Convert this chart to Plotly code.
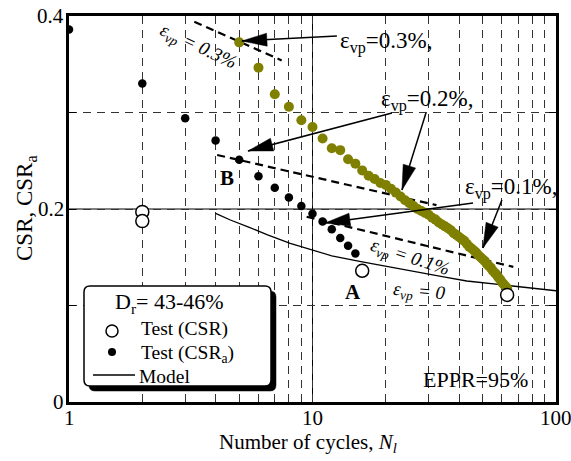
import numpy as np
import plotly.graph_objects as go

# ---------------- data ----------------
csr_a_cycles = [1, 2, 3, 4, 5, 6, 7, 8, 9, 10, 11, 12, 13, 14, 15]
csr_a_values = [0.386, 0.330, 0.294, 0.271, 0.251, 0.234, 0.222, 0.212, 0.203,
                0.195, 0.187, 0.179, 0.170, 0.162, 0.154]

csr_cycles = [2, 2, 16, 63]
csr_values = [0.197, 0.1875, 0.136, 0.111]

olive_cycles = list(range(5, 64))
olive_values = [0.3727, 0.3465, 0.319, 0.306, 0.292, 0.285, 0.273, 0.263, 0.261,
                0.2515, 0.247, 0.240, 0.2345, 0.231, 0.227, 0.225,
                0.221, 0.217, 0.213, 0.209, 0.206, 0.203, 0.200, 0.198, 0.196,
                0.194, 0.191, 0.189, 0.186, 0.184, 0.182, 0.180, 0.178, 0.175,
                0.173, 0.171, 0.169, 0.167, 0.164, 0.161, 0.159, 0.157, 0.155,
                0.152, 0.150, 0.148, 0.146, 0.143, 0.141, 0.139, 0.136, 0.134,
                0.132, 0.129, 0.127, 0.124, 0.122, 0.120, 0.118]

model_cycles = [4.0, 4.6, 5.5, 6.5, 8.1, 10, 12, 15.8, 20, 26, 35, 43, 50, 63, 80, 100]
model_values = [0.1955, 0.1886, 0.181, 0.1735, 0.1645, 0.1575, 0.1515, 0.1454,
                0.1405, 0.135, 0.1295, 0.1254, 0.1235, 0.1212, 0.118, 0.1153]

evp03_cycles = [3.27, 7.47]
evp03_values = [0.394, 0.354]
evp02_cycles = [4.06, 32.3]
evp02_values = [0.256, 0.204]
evp01_cycles = [9.46, 66.8]
evp01_values = [0.192, 0.140]

x_gridvals = [1, 2, 3, 4, 5, 6, 7, 8, 9, 10, 20, 30, 40, 50, 60, 70, 80, 90, 100]
x_labelvals = [1, 10, 100]
x_labeltext = ["1", "10", "100"]
y_gridvals = [0, 0.1, 0.2, 0.3, 0.4]
y_labelvals = [0, 0.2, 0.4]
y_labeltext = ["0", "0.2", "0.4"]

# arrows: tip (cycles, value) and tail offset in screen pixels
arrow_tips = [(5.13, 0.3741), (5.43, 0.2601), (23.3, 0.2197), (11.26, 0.1855), (50.1, 0.1596)]
arrow_tails = [(95, -5), (144, -38), (24, -77), (148, -20), (19, -48)]

FONT = "'Liberation Serif', 'Times New Roman', 'DejaVu Serif', serif"
W, H = 571, 461
L, R, T, B = 69, 15, 16, 59
PW, PH = W - L - R, H - T - B
OLIVE = "#7f7f00"


def px(xp):
    return (xp - L) / PW


def py(yp):
    return (H - B - yp) / PH


fig = go.Figure()

fig.add_trace(go.Scatter(x=model_cycles, y=model_values, mode="lines",
                         line=dict(color="black", width=1.3), showlegend=False))
for cx, cy in [(evp03_cycles, evp03_values), (evp02_cycles, evp02_values),
               (evp01_cycles, evp01_values)]:
    fig.add_trace(go.Scatter(x=cx, y=cy, mode="lines",
                             line=dict(color="black", width=2.2, dash="8px,5px"),
                             showlegend=False))
fig.add_trace(go.Scatter(x=csr_a_cycles, y=csr_a_values, mode="markers",
                         marker=dict(color="black", size=8.5), showlegend=False))
fig.add_trace(go.Scatter(x=olive_cycles, y=olive_values, mode="markers",
                         marker=dict(color=OLIVE, size=10), showlegend=False))
fig.add_trace(go.Scatter(x=csr_cycles, y=csr_values, mode="markers",
                         marker=dict(color="white", size=13,
                                     line=dict(color="black", width=1.5)),
                         showlegend=False))

shapes = []
shapes.append(dict(type="line", xref="x", yref="paper", x0=10, x1=10, y0=0, y1=1,
                   line=dict(color="black", width=1), layer="below"))
shapes.append(dict(type="line", xref="paper", yref="y", x0=0, x1=1, y0=0.2, y1=0.2,
                   line=dict(color="black", width=1), layer="below"))

HL, HW = 25, 6.5
for (tx, ty), (dx, dy) in zip(arrow_tips, arrow_tails):
    ux, uy = dx, -dy
    n = np.hypot(ux, uy)
    ux, uy = ux / n, uy / n
    bx, by = ux * HL, uy * HL
    pxv, pyv = -uy, ux
    shapes.append(dict(type="line", xref="x", yref="y", xsizemode="pixel",
                       ysizemode="pixel", xanchor=tx, yanchor=ty,
                       x0=0, y0=0, x1=dx, y1=-dy,
                       line=dict(color="black", width=1.5)))
    path = "M0,0 L{:.2f},{:.2f} L{:.2f},{:.2f} Z".format(
        bx + HW * pxv, by + HW * pyv, bx - HW * pxv, by - HW * pyv)
    shapes.append(dict(type="path", xref="x", yref="y", xsizemode="pixel",
                       ysizemode="pixel", xanchor=tx, yanchor=ty, path=path,
                       fillcolor="black", line=dict(color="black", width=0.5)))


def rounded(w, h, r):
    # pixel path anchored at bottom-left corner, y upward
    return ("M{r},0 H{a} Q{w},0 {w},{r} V{b} Q{w},{h} {a},{h} H{r} "
            "Q0,{h} 0,{b} V{r} Q0,0 {r},0 Z").format(r=r, w=w, h=h, a=w - r, b=h - r)


# legend box with shadow
shapes.append(dict(type="path", xref="paper", yref="paper", xsizemode="pixel",
                   ysizemode="pixel", xanchor=px(89), yanchor=py(391),
                   path=rounded(187, 100, 6), fillcolor="black",
                   line=dict(color="black", width=0.5)))
shapes.append(dict(type="path", xref="paper", yref="paper", xsizemode="pixel",
                   ysizemode="pixel", xanchor=px(84), yanchor=py(386),
                   path=rounded(187, 100, 6), fillcolor="white",
                   line=dict(color="black", width=1.5)))
shapes.append(dict(type="circle", xref="paper", yref="paper", xsizemode="pixel",
                   ysizemode="pixel", xanchor=px(112), yanchor=py(331),
                   x0=-6, x1=6, y0=-6, y1=6, fillcolor="white",
                   line=dict(color="black", width=1.5)))
shapes.append(dict(type="circle", xref="paper", yref="paper", xsizemode="pixel",
                   ysizemode="pixel", xanchor=px(112), yanchor=py(352),
                   x0=-4, x1=4, y0=-4, y1=4, fillcolor="black",
                   line=dict(color="black", width=0)))
shapes.append(dict(type="line", xref="paper", yref="paper",
                   x0=px(93), x1=px(135), y0=py(375), y1=py(375),
                   line=dict(color="black", width=1.3)))

ann = []


def text(x, y, s, size=20, xanchor="center", yanchor="middle", angle=0):
    ann.append(dict(xref="paper", yref="paper", x=px(x), y=py(y), text=s,
                    showarrow=False, xanchor=xanchor, yanchor=yanchor,
                    borderpad=0, textangle=angle,
                    font=dict(family=FONT, size=size, color="black")))


# tick labels
for v, s in zip(x_labelvals, x_labeltext):
    ann.append(dict(xref="x", yref="paper", x=np.log10(v), y=py(405), text=s,
                    showarrow=False, xanchor="center", yanchor="top", borderpad=0,
                    font=dict(family=FONT, size=21, color="black")))
for v, s in zip(y_labelvals, y_labeltext):
    ann.append(dict(xref="paper", yref="y", x=px(65), y=v, text=s,
                    showarrow=False, xanchor="right", yanchor="middle", borderpad=0,
                    font=dict(family=FONT, size=21, color="black")))

text(339, 42, "ε<sub>vp</sub>=0.3%,", size=23, xanchor="left")
text(380, 100, "ε<sub>vp</sub>=0.2%,", size=23, xanchor="left")
text(464, 188, "ε<sub>vp</sub>=0.1%,", size=23, xanchor="left")
text(198, 47, "<i>ε<sub>vp</sub> = 0.3%</i>", size=19, angle=25)
text(410, 258, "<i>ε<sub>vp</sub> = 0.1%</i>", size=19, angle=18)
text(419, 292, "<i>ε<sub>vp</sub> = 0</i>", size=19, angle=5)
text(227, 178, "<b>B</b>", size=21)
text(353, 292, "<b>A</b>", size=21)
text(475, 379, "EPPR=95%", size=22)
text(169, 303, "D<sub>r</sub>= 43-46%", size=22)
text(140, 341, "Test (CSR)", size=19.5, xanchor="left", yanchor="bottom")
text(140, 341, "Test (CSR<sub>a</sub>)", size=19.5, xanchor="left", yanchor="top")
text(138, 365, "Model", size=19.5, xanchor="left", yanchor="top")
text(308, 443, "Number of cycles, <i>N<sub>l</sub></i>", size=21)
text(26, 208, "CSR, CSR<sub>a</sub>", size=23, angle=-90)

fig.update_layout(
    width=W, height=H,
    margin=dict(l=L, r=R, t=T, b=B, pad=0),
    paper_bgcolor="white", plot_bgcolor="white",
    shapes=shapes, annotations=ann, showlegend=False,
    font=dict(family=FONT, color="black"),
    xaxis=dict(type="log", range=[0, 2], tickvals=x_gridvals, showticklabels=False,
               showgrid=True, gridcolor="#333333", gridwidth=1, griddash="8px,6px",
               showline=True, linecolor="black", linewidth=3, mirror=True,
               ticks="", zeroline=False),
    yaxis=dict(range=[0, 0.4], tickvals=y_gridvals, showticklabels=False,
               showgrid=True, gridcolor="#333333", gridwidth=1, griddash="8px,6px",
               showline=True, linecolor="black", linewidth=3, mirror="ticks",
               ticks="inside", ticklen=7, tickcolor="black", tickwidth=1,
               zeroline=False),
)

fig.write_html("out.html")
